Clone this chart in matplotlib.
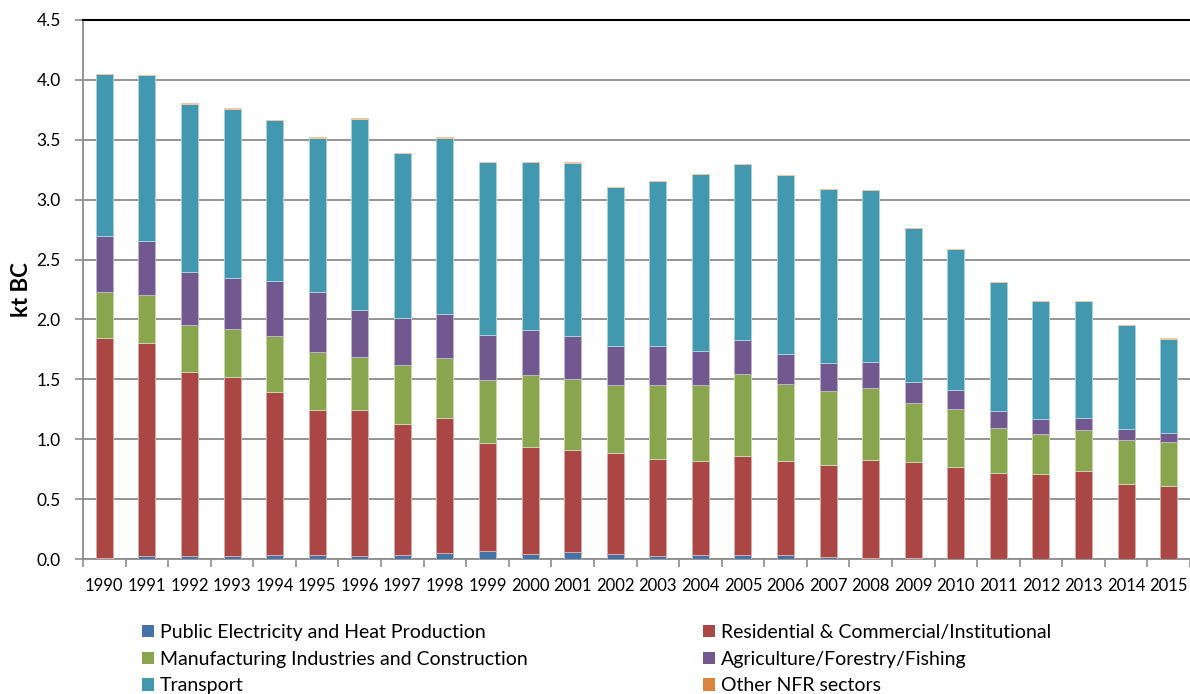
import matplotlib
matplotlib.use("Agg")
import matplotlib.pyplot as plt
import numpy as np
from matplotlib.patches import Patch
from matplotlib.colors import to_rgb

plt.rcParams['font.family'] = ['Lato', 'DejaVu Sans']

# Black carbon emissions by sector (kt BC)
years = [str(y) for y in range(1990, 2016)]

public_electricity = [0.012, 0.024, 0.024, 0.024, 0.030, 0.030, 0.027, 0.036, 0.051, 0.063,
                      0.045, 0.057, 0.039, 0.027, 0.036, 0.036, 0.030, 0.018, 0.012, 0.006,
                      0.003, 0.002, 0.002, 0.002, 0.002, 0.002]
residential = [1.830, 1.782, 1.537, 1.498, 1.362, 1.217, 1.215, 1.095, 1.130, 0.909,
               0.894, 0.857, 0.850, 0.812, 0.781, 0.822, 0.787, 0.763, 0.813, 0.808,
               0.766, 0.720, 0.704, 0.729, 0.620, 0.606]
manufacturing = [0.391, 0.397, 0.392, 0.400, 0.472, 0.478, 0.444, 0.488, 0.497, 0.525,
                 0.600, 0.592, 0.561, 0.617, 0.633, 0.684, 0.641, 0.622, 0.600, 0.489,
                 0.484, 0.370, 0.336, 0.344, 0.375, 0.370]
agriculture = [0.467, 0.455, 0.447, 0.428, 0.461, 0.508, 0.397, 0.389, 0.364, 0.372,
               0.369, 0.358, 0.331, 0.319, 0.286, 0.289, 0.256, 0.230, 0.222, 0.178,
               0.161, 0.141, 0.125, 0.103, 0.086, 0.072]
transport = [1.347, 1.381, 1.401, 1.407, 1.339, 1.286, 1.593, 1.380, 1.477, 1.443,
             1.404, 1.446, 1.322, 1.378, 1.475, 1.463, 1.489, 1.453, 1.431, 1.279,
             1.170, 1.076, 0.986, 0.975, 0.869, 0.788]
other_nfr = [0.005] * 26

series = [
    ("Public Electricity and Heat Production", public_electricity, "#4572A7"),
    ("Residential & Commercial/Institutional", residential, "#AA4643"),
    ("Manufacturing Industries and Construction", manufacturing, "#89A54E"),
    ("Agriculture/Forestry/Fishing", agriculture, "#71588F"),
    ("Transport", transport, "#4198AF"),
    ("Other NFR sectors", other_nfr, "#DB843D"),
]


def lighten(c, f=0.55):
    r, g, b = to_rgb(c)
    return (r + (1 - r) * f, g + (1 - g) * f, b + (1 - b) * f)


fig = plt.figure(figsize=(11.9, 6.94), dpi=100)
ax = fig.add_axes([83 / 1190, 1 - 559 / 694, 1 - 83 / 1190, (559 - 20) / 694])

x = np.arange(len(years))
bottom = np.zeros(len(years))
handles = {}
for name, vals, col in series:
    v = np.array(vals)
    ax.bar(x, v, width=0.4, bottom=bottom, color=col, edgecolor=lighten(col),
           linewidth=0.7, zorder=3)
    bottom += v
    handles[name] = Patch(facecolor=col, edgecolor='none', label=name)

ax.set_xlim(-0.5, len(years) - 0.5)
ax.set_ylim(0, 4.5)
ax.set_yticks(np.arange(0, 4.51, 0.5))
ax.set_yticklabels([f"{t:.1f}" for t in np.arange(0, 4.51, 0.5)])
ax.yaxis.grid(True, color="#8c8c8c", linewidth=1.3, zorder=0)
ax.set_axisbelow(True)

ax.set_xticks(x)
ax.set_xticklabels(years)
ax.set_xticks(np.arange(-0.5, len(years), 1.0), minor=True)
ax.tick_params(axis='x', which='major', length=0, pad=14, labelsize=12)
ax.tick_params(axis='x', which='minor', length=6, color="#8c8c8c", width=1.2)
ax.tick_params(axis='y', length=6, color="#8c8c8c", width=1.2, pad=10, labelsize=12.5)

for s in ['left', 'bottom']:
    ax.spines[s].set_color("#8c8c8c")
    ax.spines[s].set_linewidth(1.3)
ax.spines['right'].set_visible(False)
ax.spines['top'].set_color("black")
ax.spines['top'].set_linewidth(1.5)

ax.set_ylabel("kt BC", fontsize=16, fontweight='bold', labelpad=3)

order = ["Public Electricity and Heat Production",
         "Manufacturing Industries and Construction",
         "Transport",
         "Residential & Commercial/Institutional",
         "Agriculture/Forestry/Fishing",
         "Other NFR sectors"]
fig.legend([handles[n] for n in order], order, ncol=2, loc='upper left',
           bbox_to_anchor=(142 / 1190, 1 - 624 / 694), frameon=False,
           fontsize=14, handlelength=0.62, handleheight=0.62,
           handletextpad=0.3, columnspacing=9.0, labelspacing=0.5,
           borderaxespad=0, borderpad=0)

fig.savefig("out.png", dpi=100)
